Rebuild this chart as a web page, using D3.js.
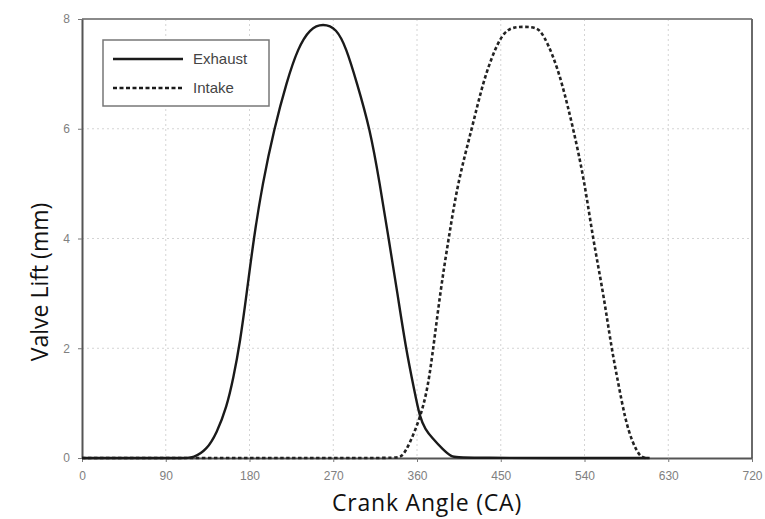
<!DOCTYPE html>
<html>
<head>
<meta charset="utf-8">
<script src="https://cdn.jsdelivr.net/npm/d3@7"></script>
<style>
  html, body { margin: 0; padding: 0; background: #fff; }
  svg { display: block; }
</style>
</head>
<body>
<svg id="chart" width="765" height="519"></svg>
<script>
// ---- data ----
const xTicks = [0, 90, 180, 270, 360, 450, 540, 630, 720];
const yTicks = [0, 2, 4, 6, 8];
const seriesNames = ["Exhaust", "Intake"];

const exhaustAngle = [0, 110, 119.6, 134, 144.7, 155.5, 162.6, 169.8, 177, 184.5, 194, 206.5, 220, 232, 245, 259, 273.5, 284, 295, 309.5, 320, 329.5, 339, 348, 357.5, 363, 369, 376, 388, 397, 405, 610];
const exhaustLift  = [0, 0, 0, 0.15, 0.45, 0.93, 1.45, 2.1, 3.0, 4.0, 5.0, 6.0, 6.86, 7.47, 7.83, 7.92, 7.83, 7.47, 6.86, 6.0, 5.0, 4.0, 3.0, 2.0, 1.2, 0.74, 0.52, 0.37, 0.15, 0.02, 0, 0];

const intakeAngle = [0, 335, 343.6, 352.5, 363, 370.4, 376, 385, 394, 404, 419, 431, 444, 454, 463, 476, 489, 496, 506, 515.5, 528, 540, 549, 560, 569, 576, 583.5, 591, 600, 608];
const intakeLift  = [0, 0, 0, 0.27, 0.72, 1.18, 1.79, 3.03, 4.0, 5.04, 6.0, 6.86, 7.47, 7.77, 7.85, 7.86, 7.85, 7.71, 7.34, 6.86, 6.0, 5.04, 4.0, 3.03, 2.0, 1.39, 0.72, 0.30, 0, 0];

// ---- layout ----
const W = 765, H = 519;
const margin = { left: 82, right: 13, top: 19, bottom: 61 };
const iw = W - margin.left - margin.right;
const ih = H - margin.top - margin.bottom;

const svg = d3.select("#chart");
const g = svg.append("g").attr("transform", `translate(${margin.left},${margin.top})`);

const x = d3.scaleLinear().domain([0, 720]).range([0, iw]);
const y = d3.scaleLinear().domain([0, 8]).range([ih, 0]);

// grid
g.append("g").selectAll("line").data(xTicks.slice(1, -1)).join("line")
  .attr("x1", d => x(d)).attr("x2", d => x(d))
  .attr("y1", 0).attr("y2", ih)
  .attr("stroke", "#d4d4d4").attr("stroke-width", 1).attr("stroke-dasharray", "2,3");
g.append("g").selectAll("line").data(yTicks.slice(1, -1)).join("line")
  .attr("x1", 0).attr("x2", iw)
  .attr("y1", d => y(d)).attr("y2", d => y(d))
  .attr("stroke", "#d4d4d4").attr("stroke-width", 1).attr("stroke-dasharray", "2,3");

// frame top/right
g.append("line").attr("x1", 0).attr("x2", iw).attr("y1", 0).attr("y2", 0)
  .attr("stroke", "#8a8a8a").attr("stroke-width", 2);
g.append("line").attr("x1", iw).attr("x2", iw).attr("y1", 0).attr("y2", ih)
  .attr("stroke", "#6a6a6a").attr("stroke-width", 2);

// axes
const xAxis = d3.axisBottom(x).tickValues(xTicks).tickSizeInner(4).tickSizeOuter(0).tickPadding(9);
const yAxis = d3.axisLeft(y).tickValues(yTicks).tickSizeInner(4).tickSizeOuter(0).tickPadding(8);

const gx = g.append("g").attr("transform", `translate(0,${ih})`).call(xAxis);
const gy = g.append("g").call(yAxis);
[gx, gy].forEach(ax => {
  ax.select(".domain").attr("stroke", "#555").attr("stroke-width", 2);
  ax.selectAll(".tick line").attr("stroke", "#777").attr("stroke-width", 1);
  ax.selectAll(".tick text").attr("fill", "#808080")
    .attr("font-family", "Liberation Sans, Arial, sans-serif").attr("font-size", 12);
});

// lines
const line = d3.line().x(d => x(d[0])).y(d => y(d[1])).curve(d3.curveBasis);
const intakePts = intakeAngle.map((a, i) => [a, intakeLift[i]]);
const exhaustPts = exhaustAngle.map((a, i) => [a, exhaustLift[i]]);

g.append("path").datum(intakePts).attr("d", line)
  .attr("fill", "none").attr("stroke", "#222").attr("stroke-width", 2.6)
  .attr("stroke-dasharray", "3.5,2.5");
g.append("path").datum(exhaustPts).attr("d", line)
  .attr("fill", "none").attr("stroke", "#1a1a1a").attr("stroke-width", 2.4);

// legend
const lg = svg.append("g").attr("transform", "translate(103,40)");
lg.append("rect").attr("x", 0).attr("y", 0).attr("width", 166).attr("height", 66)
  .attr("fill", "#fff").attr("stroke", "#777").attr("stroke-width", 1.5);
const rows = [
  { name: seriesNames[0], dash: null },
  { name: seriesNames[1], dash: "4,2.5" }
];
rows.forEach((r, i) => {
  const yy = 19 + i * 29;
  lg.append("line").attr("x1", 10).attr("x2", 80).attr("y1", yy).attr("y2", yy)
    .attr("stroke", "#1a1a1a").attr("stroke-width", 2.6)
    .attr("stroke-dasharray", r.dash);
  lg.append("text").attr("x", 90).attr("y", yy).attr("dy", "0.35em")
    .attr("font-family", "Liberation Sans, Arial, sans-serif").attr("font-size", 15)
    .attr("fill", "#444").text(r.name);
});

// axis titles
svg.append("text").attr("x", 427).attr("y", 511)
  .attr("text-anchor", "middle")
  .attr("font-family", "Open Sans, sans-serif").attr("font-size", 23)
  .attr("letter-spacing", 0.8).attr("fill", "#111")
  .text("Crank Angle (CA)");
svg.append("text")
  .attr("transform", "translate(48,282) rotate(-90)")
  .attr("text-anchor", "middle")
  .attr("font-family", "Open Sans, sans-serif").attr("font-size", 23).attr("fill", "#111")
  .text("Valve Lift (mm)");
</script>
</body>
</html>
